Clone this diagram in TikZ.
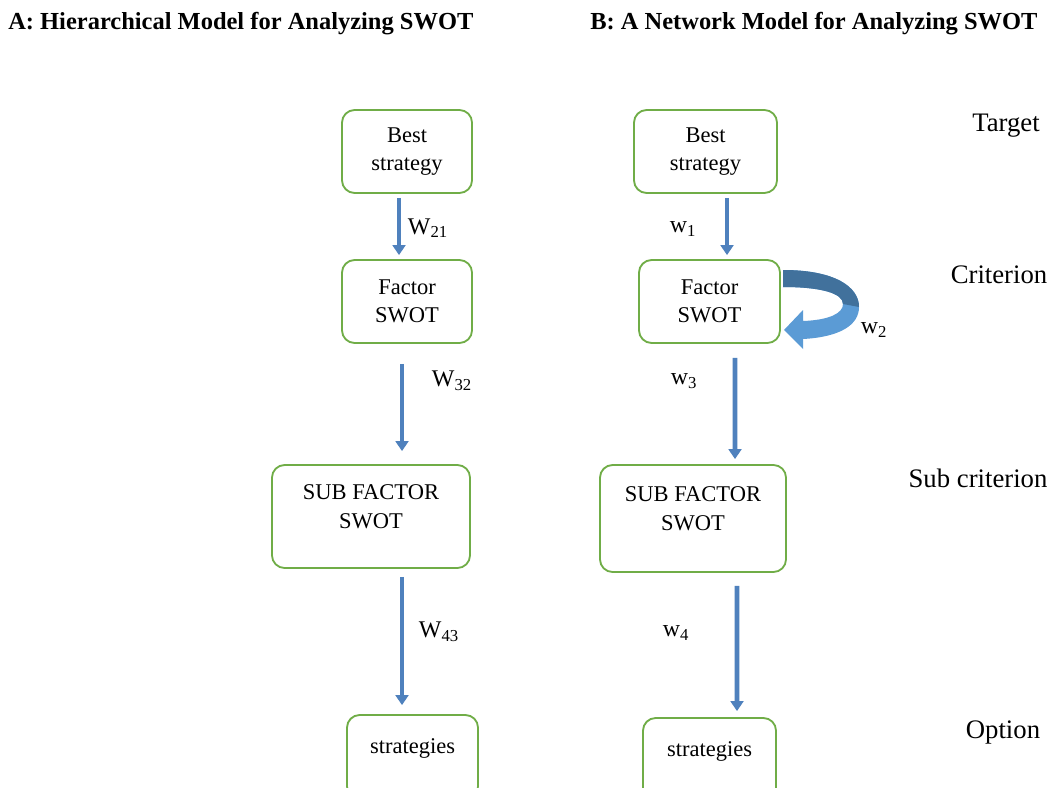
\documentclass[tikz,border=0pt]{standalone}
\usepackage{fontspec}
\setmainfont{Liberation Serif}
\usetikzlibrary{arrows.meta,calc}
\definecolor{boxgreen}{HTML}{70AD47}
\definecolor{arrowblue}{HTML}{4F81BD}
\definecolor{loopdark}{HTML}{41719C}
\definecolor{looplight}{HTML}{5B9BD5}
\tikzset{
    box/.style={draw=boxgreen, line width=1.3pt, rounded corners=9pt, fill=white,
        align=center, font=\fontsize{16}{20}\selectfont, inner sep=2pt},
    flow/.style={draw=arrowblue, line width=3.4pt, -{Triangle[width=9pt,length=7pt]}},
    wlabel/.style={anchor=west, font=\fontsize{17}{20}\selectfont},
    level/.style={font=\fontsize{19}{22}\selectfont},
    heading/.style={anchor=base west, inner sep=0pt, font=\fontsize{17.4}{20}\selectfont\bfseries}
}
\begin{document}
\begin{tikzpicture}[x=0.025cm, y=-0.025cm]
        \clip (0, 0) rectangle (1049, 787);
        \fill[white] (0, 0) rectangle (1049, 787);

        % titles
        \node[heading] (titleA) at (8, 30) {A: Hierarchical Model for Analyzing SWOT};
        \node[heading] (titleB) at (590, 30) {B: A Network Model for Analyzing SWOT};

        % levels
        \node[level] (target) at (1006, 126) {Target};
        \node[level] (criterion) at (999, 275) {Criterion};
        \node[level] (subcrit) at (978, 478) {Sub criterion};
        \node[level] (option) at (1003, 732) {Option};

        % model A
        \node[box, minimum width=3.25cm, minimum height=2.075cm] (bestA) at (407, 151.5) {Best\\strategy};
        \node[box, minimum width=3.25cm, minimum height=2.075cm] (factorA) at (407, 301.5) {Factor\\SWOT};
        \node[box, minimum width=4.95cm, minimum height=2.575cm, text depth=0.5cm] (subA) at (371, 516.5) {SUB FACTOR\\SWOT};
        \node[box, minimum width=3.275cm, minimum height=2.1cm, text depth=0.55cm] (stratA) at (412.5, 757) {strategies};

        \draw[flow] ($(bestA.south)+(-8, 4)$) -- ($(factorA.north)+(-8, -4)$);
        \draw[flow] ($(factorA.south)+(-5, 20)$) -- ($(subA.north)+(31, -13)$);
        \draw[flow] ($(subA.south)+(31, 8)$) -- ($(stratA.north)+(-10.5, -9)$);

        \node[wlabel] (w21) at (403, 228) {W\textsubscript{21}};
        \node[wlabel] (w32) at (427, 381) {W\textsubscript{32}};
        \node[wlabel] (w43) at (414, 632) {W\textsubscript{43}};

        % model B
        \node[box, minimum width=3.575cm, minimum height=2.075cm] (bestB) at (705.5, 151.5) {Best\\strategy};
        \node[box, minimum width=3.525cm, minimum height=2.075cm] (factorB) at (709.5, 301.5) {Factor\\SWOT};
        \node[box, minimum width=4.65cm, minimum height=2.675cm, text depth=0.5cm] (subB) at (693, 518.5) {SUB FACTOR\\SWOT};
        \node[box, minimum width=3.325cm, minimum height=2.1cm, text depth=0.55cm] (stratB) at (709.5, 760) {strategies};

        \draw[flow] ($(bestB.south)+(21.5, 4)$) -- ($(factorB.north)+(17.5, -4)$);
        \draw[flow] ($(factorB.south)+(25.5, 14)$) -- ($(subB.north)+(42, -5)$);
        \draw[flow] ($(subB.south)+(44, 13)$) -- ($(stratB.north)+(27.5, -6)$);

        % loop on factor SWOT
        \fill[looplight] (783, 270) .. controls (835, 270) and (859, 287) .. (859, 307)
            .. controls (859, 325) and (840, 337) .. (803, 339) -- (803, 349) -- (784, 330)
            -- (803, 310) -- (803, 321) .. controls (830, 320) and (843, 313) .. (843, 304)
            .. controls (843, 293) and (820, 287) .. (783, 287) -- cycle;
        \fill[loopdark] (783, 270) .. controls (835, 270) and (859, 287) .. (859, 307)
            -- (843, 304) .. controls (843, 293) and (820, 287) .. (783, 287) -- cycle;

        \node[wlabel] (w1) at (665, 229) {w\textsubscript{1}};
        \node[wlabel] (w2) at (856, 330) {w\textsubscript{2}};
        \node[wlabel] (w3) at (666, 381) {w\textsubscript{3}};
        \node[wlabel] (w4) at (658, 633) {w\textsubscript{4}};
    \end{tikzpicture}
\end{document}
